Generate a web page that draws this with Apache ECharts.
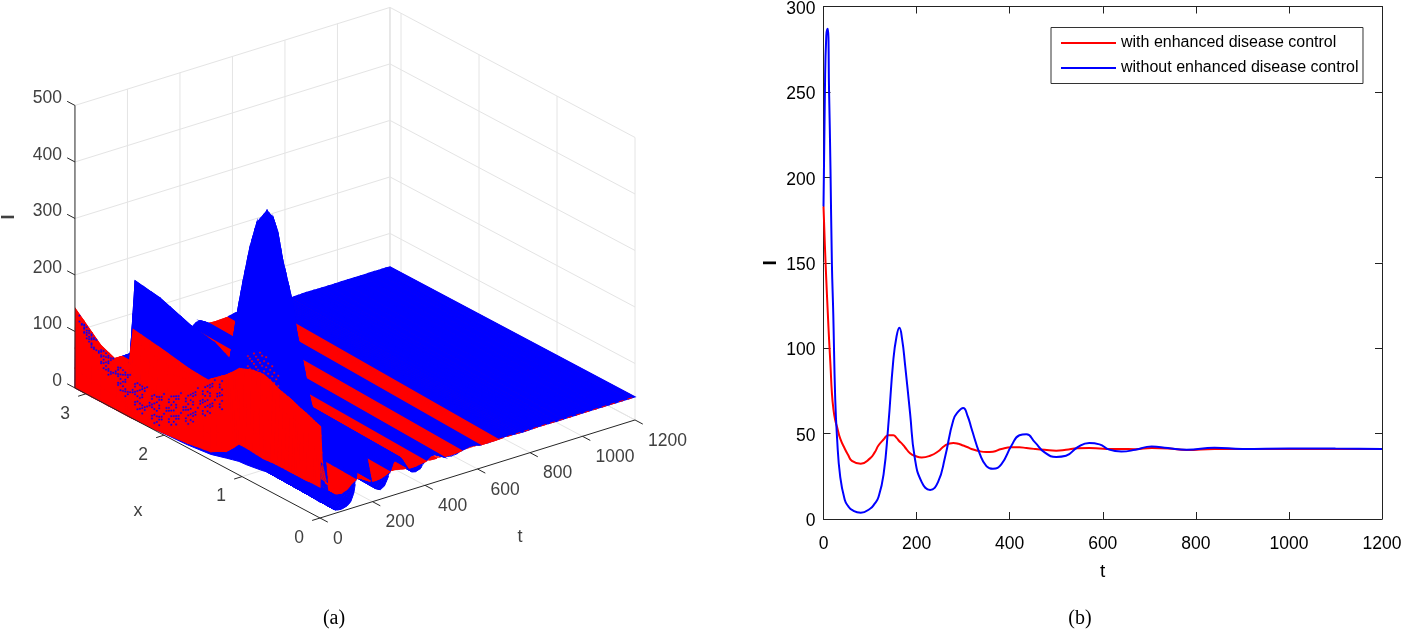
<!DOCTYPE html>
<html>
<head>
<meta charset="utf-8">
<title>I(x,t)</title>
<script src="https://cdn.jsdelivr.net/npm/echarts@6/dist/echarts.min.js"></script>
<style>
  html, body { margin: 0; padding: 0; background: #fff; }
  #chart { width: 1402px; height: 630px; }
</style>
</head>
<body>
<div id="chart"></div>
<script>
// curve values
const tPoints = [0, 3, 6, 9, 12, 15, 18, 21, 25, 29, 36, 46, 53, 61, 80, 100, 110, 118, 129, 139, 150, 157, 163, 169, 175, 186, 196, 211, 229, 246, 261, 279, 290, 300, 310, 318, 336, 350, 364, 382, 404, 421, 436, 454, 475, 500, 521, 546, 571, 593, 614, 640, 670, 705, 740, 780, 840, 900, 1000, 1100, 1200]
const blueI = [183, 250, 283, 287, 250, 205, 150, 120, 72, 48, 24.5, 11, 7.5, 5.3, 3.7, 6, 9, 12.7, 26, 54, 93, 107, 112, 105, 91, 62, 36, 21.6, 17, 21.6, 36, 58, 63, 65, 60, 53, 38, 31, 29.4, 32, 43, 49, 49.6, 45, 39, 36.3, 37, 42, 44.5, 43.7, 40.6, 39.5, 40.5, 42.5, 41.5, 40.5, 41.7, 41, 41.3, 41.2, 41]
const redI = [183, 160, 140, 122, 105, 90, 74, 65, 58, 54, 47, 41, 37.5, 34, 32.4, 35.5, 39, 43, 46.5, 49, 49, 47.5, 45.5, 44, 42, 38.5, 37, 36, 37, 39.5, 43, 44.5, 44, 43, 42, 41, 39.6, 39.2, 39.4, 41, 42, 42, 41.5, 41, 40.5, 40, 40.5, 41.4, 41.5, 41.3, 41, 41, 40.9, 41.5, 41.3, 40.4, 41, 41, 41, 41, 41]

// surface values near t = 0, one row per frontT, one column per surfaceX
const surfaceX = [0, 0.08, 0.18, 0.27, 0.35, 0.41, 0.53, 0.59, 0.65, 0.73, 0.86, 0.95, 1.04, 1.12, 1.2, 1.4, 1.7, 2.1, 2.42, 2.5, 2.82, 3.14]
const frontT = [0, 2, 8, 15, 22, 30]
const blueFront = [
  [28, 29, 31, 32, 34, 35, 35, 34, 33, 30, 27, 25, 24, 21, 18, 10, 5, 2, 0, 0, 0, 0],
  [100, 110, 130, 145, 155, 165, 175, 180, 185, 190, 187, 183, 180, 165, 155, 130, 90, 60, 70, 76, 92, 130],
  [90, 110, 150, 190, 240, 270, 320, 370, 400, 420, 380, 340, 300, 240, 180, 130, 125, 130, 145, 58, 46, 44],
  [125, 148, 197, 254, 302, 354, 416, 459, 481, 488, 457, 406, 338, 272, 190, 205, 213, 233, 240, 60, 45, 42],
  [90, 110, 150, 190, 220, 250, 280, 300, 310, 320, 300, 280, 250, 200, 150, 155, 165, 170, 175, 50, 43, 42],
  [50, 52, 55, 58, 60, 65, 70, 75, 78, 80, 78, 76, 74, 70, 65, 65, 65, 65, 65, 42, 41, 41]
]
const redFront = [
  [55, 55, 54, 54, 54, 54, 54, 54, 53, 52, 54, 55, 55, 42, 30, 15, 8, 2, 0, 0, 0, 0],
  [161, 165, 171, 175, 180, 183, 188, 192, 196, 200, 198, 193, 188, 176, 165, 143, 100, 68, 75, 80, 99, 139],
  [100, 105, 112, 120, 130, 138, 150, 158, 165, 170, 165, 160, 158, 150, 142, 135, 138, 148, 155, 60, 48, 45],
  [85, 87, 90, 93, 96, 98, 102, 105, 108, 110, 110, 110, 110, 110, 110, 110, 110, 110, 110, 45, 43, 42],
  [68, 69, 70, 71, 72, 73, 74, 75, 76, 76, 76, 76, 76, 76, 76, 76, 76, 76, 76, 43, 42, 41],
  [55, 55, 55, 55, 55, 55, 55, 55, 55, 55, 55, 55, 55, 55, 55, 55, 55, 55, 55, 42, 41, 41]
]

const tTicks3d = [0, 200, 400, 600, 800, 1000, 1200]
const xTicks3d = [0, 1, 2, 3]
const iTicks3d = [0, 100, 200, 300, 400, 500]

const RED = '#ff0000'
const BLUE = '#0000ff'
const GRID = '#e4e4e4'
const AXIS = '#262626'
const LABEL = '#404040'
const X_MAX = Math.PI
const FONT = '"Liberation Sans", Arial, sans-serif'

// the crests drift in t as x grows
const crestDrift = t => Math.min(41, Math.max(0, (t - 30) * 1.6))

// orthographic view of the 3d box, result is in the hidden axes of grid 0
const project = (t, x, i) => [
  320 + 0.2625 * t - 78 * x,
  518 - 0.0817 * t - 41.4 * x - 0.565 * i
]

// past the step at x = 2.45 the early waves stay low
const edgeCap = 30
const edgeX = 2.45
const edgeUntil = 200

// mesh rows from t = 0 to the end, later rows are flat across x
const surfaceRows = []
frontT.forEach((t, r) => surfaceRows.push({ t, blue: blueFront[r], red: redFront[r], flat: false }))
tPoints.forEach((t, k) => {
  if (t <= frontT[frontT.length - 1]) return
  const early = t < edgeUntil
  const column = v => surfaceX.map(x => (early && x > edgeX ? Math.min(v, edgeCap) : v))
  surfaceRows.push({ t, blue: column(blueI[k]), red: column(redI[k]), flat: !early })
})

const polyEl = (pts, color, api, edge) => ({
  type: 'polygon',
  silent: true,
  shape: { points: pts.map(p => api.coord(p)) },
  style: { fill: color, stroke: edge ? color : null, lineWidth: edge || 0 }
})

const lineEl = (a, b, color, width, api) => {
  const p = api.coord(a)
  const q = api.coord(b)
  return {
    type: 'line',
    silent: true,
    shape: { x1: p[0], y1: p[1], x2: q[0], y2: q[1] },
    style: { stroke: color, lineWidth: width }
  }
}

const textEl = (pos, text, align, size, api) => {
  const p = api.coord(pos)
  return {
    type: 'text',
    silent: true,
    x: p[0],
    y: p[1],
    style: { text, fill: LABEL, font: size + 'px ' + FONT, textAlign: align, textVerticalAlign: 'middle' }
  }
}

function renderWalls(params, api) {
  const children = []
  iTicks3d.slice(1).forEach(i => {
    children.push(lineEl(project(0, X_MAX, i), project(1200, X_MAX, i), GRID, 1, api))
    children.push(lineEl(project(1200, X_MAX, i), project(1200, 0, i), GRID, 1, api))
  })
  tTicks3d.slice(1).forEach(t => {
    children.push(lineEl(project(t, X_MAX, 0), project(t, X_MAX, 500), GRID, 1, api))
    children.push(lineEl(project(t, 0, 0), project(t, X_MAX, 0), GRID, 1, api))
  })
  xTicks3d.forEach(x => {
    children.push(lineEl(project(1200, x, 0), project(1200, x, 500), GRID, 1, api))
    if (x > 0) children.push(lineEl(project(0, x, 0), project(1200, x, 0), GRID, 1, api))
  })
  children.push(lineEl(project(0, X_MAX, 0), project(1200, X_MAX, 0), GRID, 1, api))
  children.push(lineEl(project(1200, X_MAX, 0), project(1200, 0, 0), GRID, 1, api))
  children.push(lineEl(project(1200, X_MAX, 0), project(1200, X_MAX, 500), GRID, 1.4, api))
  return { type: 'group', children }
}

function renderSurface(params, api) {
  const children = []
  const subT = 4
  const node = (a, b, f, col, key) => {
    const x = surfaceX[col]
    const ta = Math.min(1200, a.t + crestDrift(a.t) * x / X_MAX)
    const tb = Math.min(1200, b.t + crestDrift(b.t) * x / X_MAX)
    return { t: ta + (tb - ta) * f, x, i: a[key][col] + (b[key][col] - a[key][col]) * f }
  }
  const corner = (a, b, f, col, g, key) => {
    const p = node(a, b, f, col, key)
    const q = node(a, b, f, col + 1, key)
    return project(p.t + (q.t - p.t) * g, p.x + (q.x - p.x) * g, p.i + (q.i - p.i) * g)
  }
  const cell = (a, b, f0, f1, col, g0, g1, key) => [
    corner(a, b, f0, col, g0, key),
    corner(a, b, f1, col, g0, key),
    corner(a, b, f1, col, g1, key),
    corner(a, b, f0, col, g1, key)
  ]
  const height = (a, b, f, key, col) => a[key][col] + (b[key][col] - a[key][col]) * f
  // in the wave rows the lower surface only gets an edge when it sits well below the upper one
  const lowerEdge = (hb, hr, r) => (r >= 6 && Math.abs(hb - hr) > 6 ? 1 : 0)

  for (let r = surfaceRows.length - 2; r >= 0; r--) {
    const a = surfaceRows[r]
    const b = surfaceRows[r + 1]
    const flat = a.flat && b.flat
    const subX = r < 6 ? 3 : 1
    // first row: blue is under red everywhere, so it goes down in one piece
    if (r === 0) {
      const lower = surfaceX.map((x, c) => project(a.t, x, a.blue[c]))
      const upper = surfaceX.map((x, c) => project(b.t, x, b.blue[c]))
      children.push(polyEl(lower.concat(upper.reverse()), BLUE, api, 1))
    }
    for (let s = subT - 1; s >= 0; s--) {
      const f0 = s / subT
      const f1 = (s + 1) / subT
      const fm = (f0 + f1) / 2
      if (flat) {
        const last = surfaceX.length - 2
        const whole = key => [
          corner(a, b, f0, 0, 0, key),
          corner(a, b, f1, 0, 0, key),
          corner(a, b, f1, last, 1, key),
          corner(a, b, f0, last, 1, key)
        ]
        const hb = height(a, b, fm, 'blue', 0)
        const hr = height(a, b, fm, 'red', 0)
        const blueTop = hb >= hr
        children.push(polyEl(whole(blueTop ? 'red' : 'blue'), blueTop ? RED : BLUE, api, lowerEdge(hb, hr, r)))
        children.push(polyEl(whole(blueTop ? 'blue' : 'red'), blueTop ? BLUE : RED, api, 1.2))
        continue
      }
      for (let c = surfaceX.length - 2; c >= 0; c--) {
        for (let k = subX - 1; k >= 0; k--) {
          const g0 = k / subX
          const g1 = (k + 1) / subX
          const gm = (g0 + g1) / 2
          const hb = height(a, b, fm, 'blue', c) * (1 - gm) + height(a, b, fm, 'blue', c + 1) * gm
          const hr = height(a, b, fm, 'red', c) * (1 - gm) + height(a, b, fm, 'red', c + 1) * gm
          const blueTop = hb >= hr
          if (r > 0) {
            children.push(polyEl(cell(a, b, f0, f1, c, g0, g1, blueTop ? 'red' : 'blue'), blueTop ? RED : BLUE, api, lowerEdge(hb, hr, r)))
          }
          children.push(polyEl(cell(a, b, f0, f1, c, g0, g1, blueTop ? 'blue' : 'red'), blueTop ? BLUE : RED, api, 1.2))
        }
      }
    }
  }

  // red surface just showing along the front edge where the curves have settled
  const frontEdge = lineEl(project(680, 0, 41), project(1200, 0, 41), RED, 1, api)
  frontEdge.style.lineDash = [5, 4]
  children.push(frontEdge)

  // mesh showing through where the two surfaces nearly touch at the start
  const topAt = x => {
    let c = 0
    while (c < surfaceX.length - 2 && surfaceX[c + 1] < x) c++
    const g = (x - surfaceX[c]) / (surfaceX[c + 1] - surfaceX[c])
    return redFront[1][c] + (redFront[1][c + 1] - redFront[1][c]) * g
  }
  const speck = (x, z, color) => {
    const p = project(2, x, z)
    children.push(polyEl([p, [p[0] + 1.4, p[1]], [p[0] + 1.4, p[1] + 1.4], [p[0], p[1] + 1.4]], color, api, 0.3))
  }
  for (let i = 0; i < 60; i++) {
    const x = 3.1 - i * 0.031
    const depth = 18 + 42 * Math.sin(Math.min(1, i / 34) * Math.PI * 0.5)
    for (let j = 0; j < 12; j++) {
      if ((3 * i * i + 5 * j * j + i * j) % 7 > 1) continue
      speck(x, topAt(x) - 2 - (j / 12) * depth, BLUE)
    }
  }
  for (let i = 0; i < 16; i++) {
    const x = 0.55 + i * 0.026
    for (let j = 0; j < 7; j++) {
      if ((i + 2 * j) % 3 !== 0) continue
      speck(x, topAt(x) + 3 + j * 6 - Math.abs(i - 8) * 2, RED)
    }
  }
  return { type: 'group', children }
}

function renderAxes(params, api) {
  const children = []
  children.push(lineEl(project(0, 0, 0), project(1200, 0, 0), AXIS, 1, api))
  children.push(lineEl(project(0, 0, 0), project(0, X_MAX, 0), AXIS, 1, api))
  children.push(lineEl(project(0, X_MAX, 0), project(0, X_MAX, 500), AXIS, 1, api))
  tTicks3d.forEach(t => {
    const base = project(t, 0, 0)
    children.push(lineEl(base, project(t, -0.1, 0), AXIS, 1, api))
    children.push(textEl([base[0] + 13, base[1] + 21], String(t), 'left', 17.5, api))
  })
  xTicks3d.forEach(x => {
    const base = project(0, x, 0)
    children.push(lineEl(base, project(-30, x, 0), AXIS, 1, api))
    children.push(textEl([base[0] - 21, base[1] + 20], String(x), 'center', 17.5, api))
  })
  iTicks3d.forEach(i => {
    const base = project(0, X_MAX, i)
    children.push(lineEl(base, project(0, X_MAX + 0.1, i), AXIS, 1, api))
    children.push(textEl([62, base[1] - 7], String(i), 'right', 17.5, api))
  })
  children.push(textEl([138, 511], 'x', 'center', 18, api))
  children.push(textEl([520, 537], 't', 'center', 18, api))
  const title = textEl([9, 217], 'I', 'center', 18, api)
  title.rotation = Math.PI / 2
  title.style.font = 'bold 18px ' + FONT
  children.push(title)
  return { type: 'group', children }
}

const customLayer = renderItem => ({
  type: 'custom',
  xAxisIndex: 0,
  yAxisIndex: 0,
  clip: false,
  silent: true,
  animation: false,
  data: [[0, 0]],
  renderItem
})

const tickStyle = { show: true, inside: true, length: 7, lineStyle: { color: '#222', width: 1 } }
const lineStyleAxis = { show: true, onZero: false, lineStyle: { color: '#222', width: 1 } }

const chart = echarts.init(document.getElementById('chart'), null, { renderer: 'canvas' })

chart.setOption({
  animation: false,
  backgroundColor: '#fff',
  textStyle: { fontFamily: FONT },
  grid: [
    { left: 0, top: 0, width: 700, height: 630, outerBoundsMode: 'none' },
    { left: 823.5, top: 6.5, width: 558.5, height: 512.5, outerBoundsMode: 'none' }
  ],
  xAxis: [
    { gridIndex: 0, type: 'value', min: 0, max: 700, show: false },
    {
      gridIndex: 1, type: 'value', min: 0, max: 1200, interval: 200, position: 'bottom',
      name: 't', nameLocation: 'middle', nameGap: 43,
      nameTextStyle: { color: '#000', fontSize: 19, fontFamily: FONT },
      axisLine: lineStyleAxis, axisTick: tickStyle, splitLine: { show: false },
      axisLabel: { color: '#000', fontSize: 17.5, margin: 16, fontFamily: FONT, hideOverlap: false, formatter: v => String(v) }
    },
    {
      gridIndex: 1, type: 'value', min: 0, max: 1200, interval: 200, position: 'top',
      axisLine: lineStyleAxis, axisTick: tickStyle, axisLabel: { show: false }, splitLine: { show: false }
    }
  ],
  yAxis: [
    { gridIndex: 0, type: 'value', min: 0, max: 630, inverse: true, show: false },
    {
      gridIndex: 1, type: 'value', min: 0, max: 300, interval: 50, position: 'left',
      name: 'I', nameLocation: 'middle', nameGap: 43, nameRotate: 90,
      nameTextStyle: { color: '#000', fontSize: 19, fontWeight: 'bold', fontFamily: FONT },
      axisLine: lineStyleAxis, axisTick: tickStyle, splitLine: { show: false },
      axisLabel: { color: '#000', fontSize: 17.5, margin: 8, verticalAlign: 'top', lineHeight: 5, fontFamily: FONT }
    },
    {
      gridIndex: 1, type: 'value', min: 0, max: 300, interval: 50, position: 'right',
      axisLine: lineStyleAxis, axisTick: tickStyle, axisLabel: { show: false }, splitLine: { show: false }
    }
  ],
  legend: {
    orient: 'vertical',
    left: 1051,
    top: 27.5,
    padding: [7.5, 4.5, 7.5, 10],
    icon: 'rect',
    itemWidth: 55,
    itemHeight: 2,
    itemGap: 9,
    backgroundColor: '#fff',
    borderColor: '#333',
    borderWidth: 1,
    borderRadius: 0,
    textStyle: { color: '#000', fontSize: 16, fontFamily: FONT },
    data: ['with enhanced disease control', 'without enhanced disease control']
  },
  graphic: [
    { type: 'text', x: 334, y: 619, silent: true, style: { text: '(a)', fill: '#000', font: '20px "Liberation Serif", serif', textAlign: 'center', textVerticalAlign: 'middle' } },
    { type: 'text', x: 1080, y: 619, silent: true, style: { text: '(b)', fill: '#000', font: '20px "Liberation Serif", serif', textAlign: 'center', textVerticalAlign: 'middle' } }
  ],
  series: [
    customLayer(renderWalls),
    customLayer(renderSurface),
    customLayer(renderAxes),
    {
      name: 'with enhanced disease control',
      type: 'line',
      xAxisIndex: 1,
      yAxisIndex: 1,
      symbol: 'none',
      smooth: 0.5,
      data: tPoints.map((t, k) => [t, redI[k]]),
      lineStyle: { color: RED, width: 2 },
      itemStyle: { color: RED }
    },
    {
      name: 'without enhanced disease control',
      type: 'line',
      xAxisIndex: 1,
      yAxisIndex: 1,
      symbol: 'none',
      smooth: 0.5,
      data: tPoints.map((t, k) => [t, blueI[k]]),
      lineStyle: { color: BLUE, width: 2 },
      itemStyle: { color: BLUE }
    }
  ]
})
</script>
</body>
</html>
